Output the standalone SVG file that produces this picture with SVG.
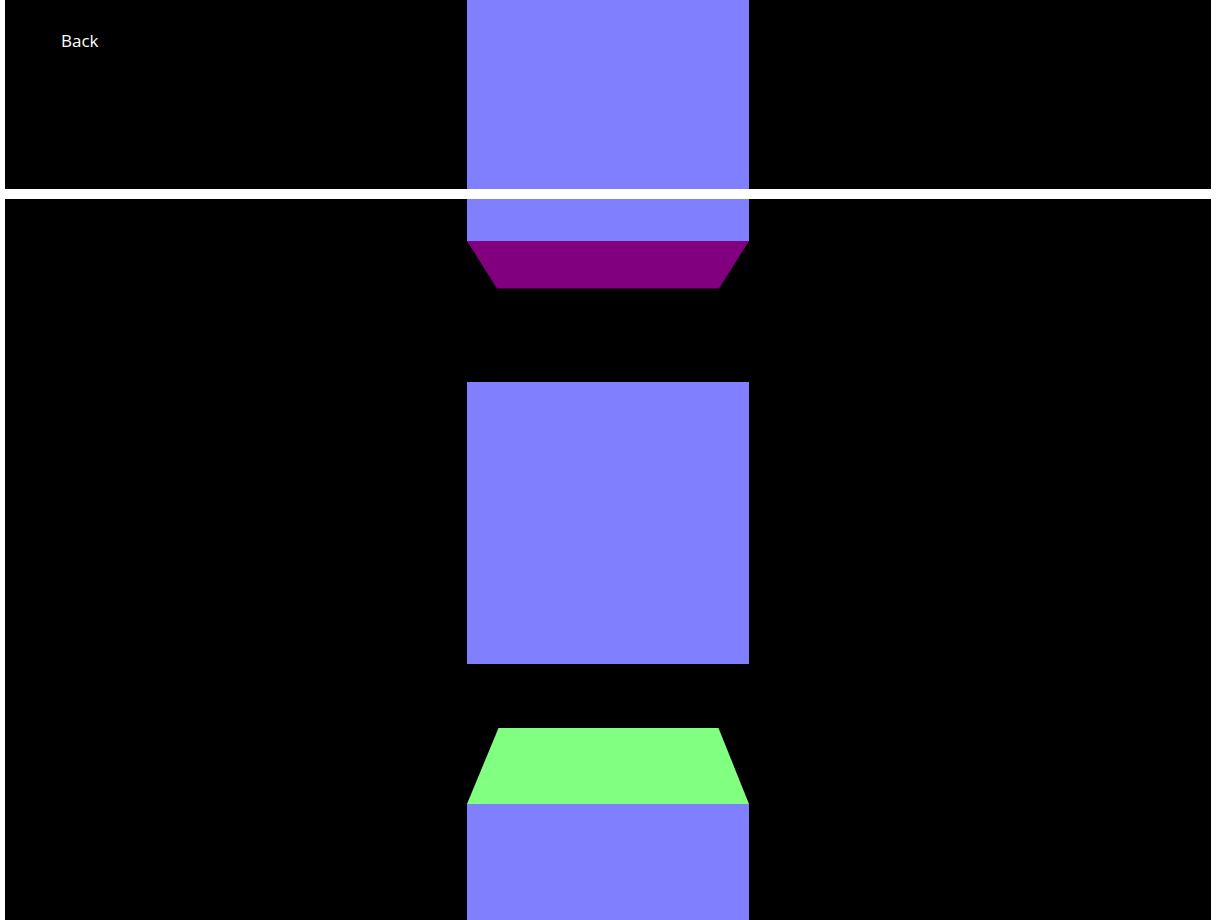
<svg xmlns="http://www.w3.org/2000/svg" width="1216" height="920" viewBox="0 0 1216 920">
<style>
.panel{fill:#000000}
.blue{fill:#8080FF}
.purple{fill:#800080}
.green{fill:#80FF80}
.label{font-family:"Open Sans","Noto Sans","DejaVu Sans",sans-serif;font-size:17px;fill:#FFFFFF}
</style>
<rect x="0" y="0" width="1216" height="920" fill="#FFFFFF"/>
<g id="top-panel">
<rect class="panel" x="5" y="0" width="1206" height="189"/>
</g>
<g id="bottom-panel">
<rect class="panel" x="5" y="199" width="1206" height="721"/>
</g>
<g id="top-column">
<rect class="blue" x="467" y="0" width="282" height="189"/>
<rect class="blue" x="467" y="199" width="282" height="42"/>
<polygon class="purple" points="467,241 749,241 719,288.5 497,288.5"/>
</g>
<g id="middle-square">
<rect class="blue" x="467" y="382" width="282" height="282"/>
</g>
<g id="bottom-column">
<polygon class="green" points="498.5,728 718.5,728 749,804 467,804"/>
<rect class="blue" x="467" y="804" width="282" height="116"/>
</g>
<g id="back-button">
<text class="label" x="61" y="47">Back</text>
</g>
<g id="connectors"></g>
</svg>
